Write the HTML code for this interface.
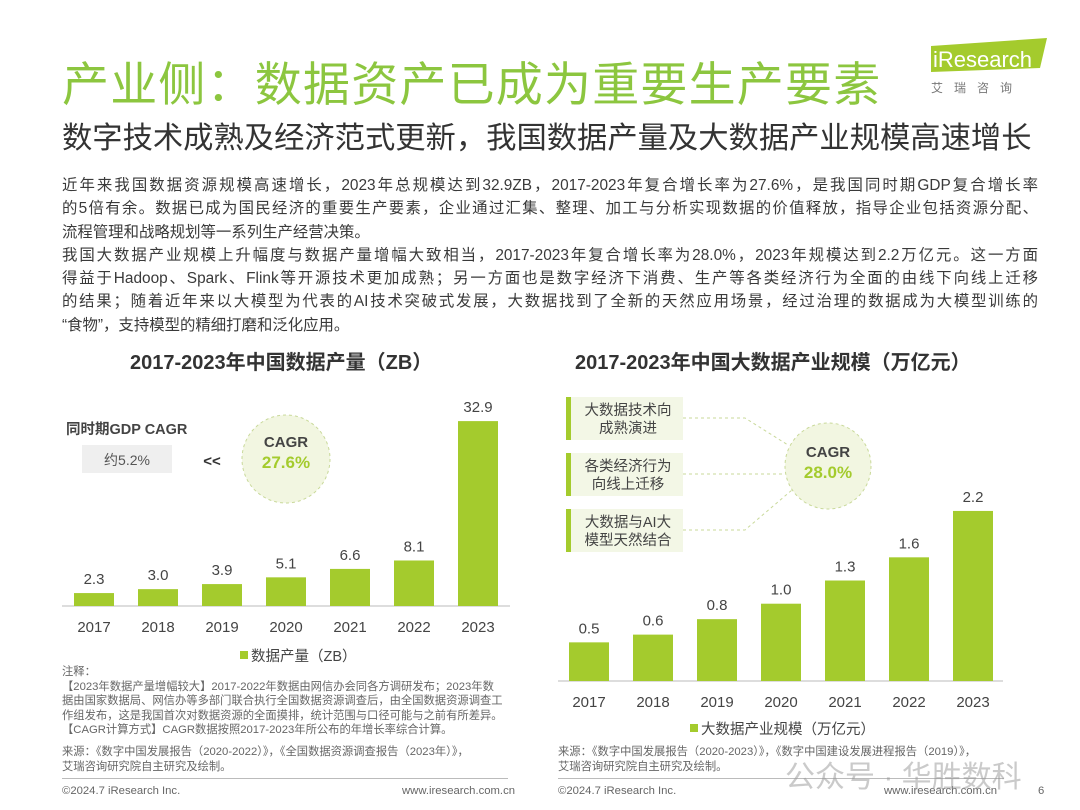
<!DOCTYPE html>
<html><head><meta charset="utf-8">
<style>
body{margin:0;width:1080px;height:810px;background:#fff;position:relative;overflow:hidden;font-family:"Liberation Sans","Noto Sans CJK SC",sans-serif;color:#333}
.a{position:absolute;white-space:nowrap}
.body{position:absolute;left:62px;top:174px;width:976px;font-size:15.4px;line-height:23.3px;color:#3a3a3a;text-align:justify;text-align-last:justify}
.body div{white-space:nowrap}
.ct{font-weight:bold;font-size:20px;color:#333}
.note{font-size:11.3px;line-height:14.5px;color:#666}
</style></head><body>
<div class="a" style="left:62px;top:46px;font-size:47px;color:#8cc63f;letter-spacing:1.2px">产业侧：数据资产已成为重要生产要素</div>
<div class="a" style="left:925px;top:38px;width:125px;height:60px">
<svg width="125" height="60"><polygon points="6,8 122,0 115,30 6,34" fill="#a4cb2d"/><text x="8" y="29" font-size="22" fill="#fff" font-family="Liberation Sans">iResearch</text><text x="6" y="54" font-size="12" fill="#777" letter-spacing="11">艾瑞咨询</text></svg></div>
<div class="a" style="left:62px;top:113px;font-size:30.3px;color:#333">数字技术成熟及经济范式更新，我国数据产量及大数据产业规模高速增长</div>
<div class="body">
<div>近年来我国数据资源规模高速增长，2023年总规模达到32.9ZB，2017-2023年复合增长率为27.6%，是我国同时期GDP复合增长率</div>
<div>的5倍有余。数据已成为国民经济的重要生产要素，企业通过汇集、整理、加工与分析实现数据的价值释放，指导企业包括资源分配、</div>
<div style="text-align-last:left">流程管理和战略规划等一系列生产经营决策。</div>
<div>我国大数据产业规模上升幅度与数据产量增幅大致相当，2017-2023年复合增长率为28.0%，2023年规模达到2.2万亿元。这一方面</div>
<div>得益于Hadoop、Spark、Flink等开源技术更加成熟；另一方面也是数字经济下消费、生产等各类经济行为全面的由线下向线上迁移</div>
<div>的结果；随着近年来以大模型为代表的AI技术突破式发展，大数据找到了全新的天然应用场景，经过治理的数据成为大模型训练的</div>
<div style="text-align-last:left">“食物”，支持模型的精细打磨和泛化应用。</div>
</div>
<div class="a ct" style="left:130px;top:346px">2017-2023年中国数据产量（ZB）</div>
<div class="a ct" style="left:575px;top:346px">2017-2023年中国大数据产业规模（万亿元）</div>

<svg id="chart" class="a" style="left:0;top:0" width="1080" height="810">
<g id="deco">
<circle cx="286" cy="459" r="44" fill="#f2f6e1" stroke="#c9d99a" stroke-dasharray="3,3"/>
<text x="286" y="447" text-anchor="middle" font-size="15" font-weight="bold" fill="#444">CAGR</text>
<text x="286" y="468" text-anchor="middle" font-size="17" font-weight="bold" fill="#a4cb2d">27.6%</text>
<text x="66" y="434" font-size="14.5" font-weight="bold" fill="#444">同时期GDP CAGR</text>
<rect x="82" y="445" width="90" height="28" fill="#efefef"/>
<text x="127" y="465" text-anchor="middle" font-size="14" fill="#555">约5.2%</text>
<text x="212" y="466" text-anchor="middle" font-size="15" font-weight="bold" fill="#333">&lt;&lt;</text>
<g stroke="#c9d99a" stroke-dasharray="3,3" fill="none">
<polyline points="683,418 745,418 788,445"/><line x1="683" y1="474" x2="785" y2="474"/><polyline points="683,530 745,530 792,490"/></g>
<circle cx="828" cy="466" r="43" fill="#f2f6e1" stroke="#c9d99a" stroke-dasharray="3,3"/>
<text x="828" y="457" text-anchor="middle" font-size="15" font-weight="bold" fill="#444">CAGR</text>
<text x="828" y="478" text-anchor="middle" font-size="17" font-weight="bold" fill="#a4cb2d">28.0%</text>
<g font-size="14.5" fill="#444" text-anchor="middle">
<rect x="566" y="397" width="117" height="43" fill="#f3f7e6"/><rect x="566" y="397" width="5" height="43" fill="#a4cb2d"/>
<text x="628" y="415">大数据技术向</text><text x="628" y="433">成熟演进</text>
<rect x="566" y="453" width="117" height="43" fill="#f3f7e6"/><rect x="566" y="453" width="5" height="43" fill="#a4cb2d"/>
<text x="628" y="471">各类经济行为</text><text x="628" y="489">向线上迁移</text>
<rect x="566" y="509" width="117" height="43" fill="#f3f7e6"/><rect x="566" y="509" width="5" height="43" fill="#a4cb2d"/>
<text x="628" y="527">大数据与AI大</text><text x="628" y="545">模型天然结合</text></g>
</g>
<g id="c1"></g><g id="c2"></g>
<rect x="240" y="651" width="8" height="8" fill="#a4cb2d"/>
<text x="251" y="661" font-size="14.5" fill="#444">数据产量（ZB）</text>
<rect x="690" y="724" width="8" height="8" fill="#a4cb2d"/>
<text x="701" y="734" font-size="14.5" fill="#444">大数据产业规模（万亿元）</text>
</svg>

<div class="a note" style="left:62px;top:665px">注释：<br>【2023年数据产量增幅较大】2017-2022年数据由网信办会同各方调研发布；2023年数<br>据由国家数据局、网信办等多部门联合执行全国数据资源调查后，由全国数据资源调查工<br>作组发布，这是我国首次对数据资源的全面摸排，统计范围与口径可能与之前有所差异。<br>【CAGR计算方式】CAGR数据按照2017-2023年所公布的年增长率综合计算。</div>
<div class="a note" style="left:62px;top:745px">来源：《数字中国发展报告（2020-2022）》，《全国数据资源调查报告（2023年）》，<br>艾瑞咨询研究院自主研究及绘制。</div>
<div class="a note" style="left:558px;top:745px">来源：《数字中国发展报告（2020-2023）》，《数字中国建设发展进程报告（2019）》，<br>艾瑞咨询研究院自主研究及绘制。</div>
<div class="a" style="left:62px;top:778px;width:446px;height:1px;background:#bbb"></div>
<div class="a" style="left:558px;top:778px;width:446px;height:1px;background:#bbb"></div>
<div class="a note" style="left:62px;top:784px">©2024.7 iResearch Inc.</div>
<div class="a note" style="left:402px;top:784px">www.iresearch.com.cn</div>
<div class="a note" style="left:558px;top:784px">©2024.7 iResearch Inc.</div>
<div class="a note" style="left:884px;top:784px">www.iresearch.com.cn</div>
<div class="a note" style="left:1038px;top:784px">6</div>
<div class="a" style="left:785px;top:752px;font-size:30px;color:rgba(150,150,150,0.5)">公众号 · 华胜数科</div>

<script>
const years = ["2017","2018","2019","2020","2021","2022","2023"];
const dataVolume = [2.3, 3.0, 3.9, 5.1, 6.6, 8.1, 32.9];
const volumeLabels = ["2.3","3.0","3.9","5.1","6.6","8.1","32.9"];
const industrySize = [0.5, 0.6, 0.8, 1.0, 1.3, 1.6, 2.2];
const sizeLabels = ["0.5","0.6","0.8","1.0","1.3","1.6","2.2"];
const NS="http://www.w3.org/2000/svg";
function mk(t,a,p){const e=document.createElementNS(NS,t);for(const k in a)e.setAttribute(k,a[k]);p.appendChild(e);return e;}
function draw(gid,vals,labels,o){
  const g=document.getElementById(gid);
  const x=i=>o.x0+i*o.step;
  const y=v=>o.base-v*o.scale;
  const ax=mk('line',{x1:o.a0,x2:o.a1,y1:o.base,y2:o.base,stroke:'#bbb'},g);
  
  
  vals.forEach((v,i)=>{
    const r=mk('rect',{x:x(i)-20,y:y(v),width:40,height:o.base-y(v),fill:'#a4cb2d'},g);
    
    
    const t=mk('text',{x:x(i),y:y(v)-9,'text-anchor':'middle','font-size':15,fill:'#444'},g);
    t.textContent=labels[i];
    
    
    const yl=mk('text',{x:x(i),y:o.base+26,'text-anchor':'middle','font-size':15,fill:'#444'},g);
    yl.textContent=years[i];
    
    
  });
}
draw('c1',dataVolume,volumeLabels,{x0:94,step:64,base:606,scale:5.62,a0:62,a1:510});
draw('c2',industrySize,sizeLabels,{x0:589,step:64,base:681,scale:77.3,a0:558,a1:1003});
</script>
</body></html>
